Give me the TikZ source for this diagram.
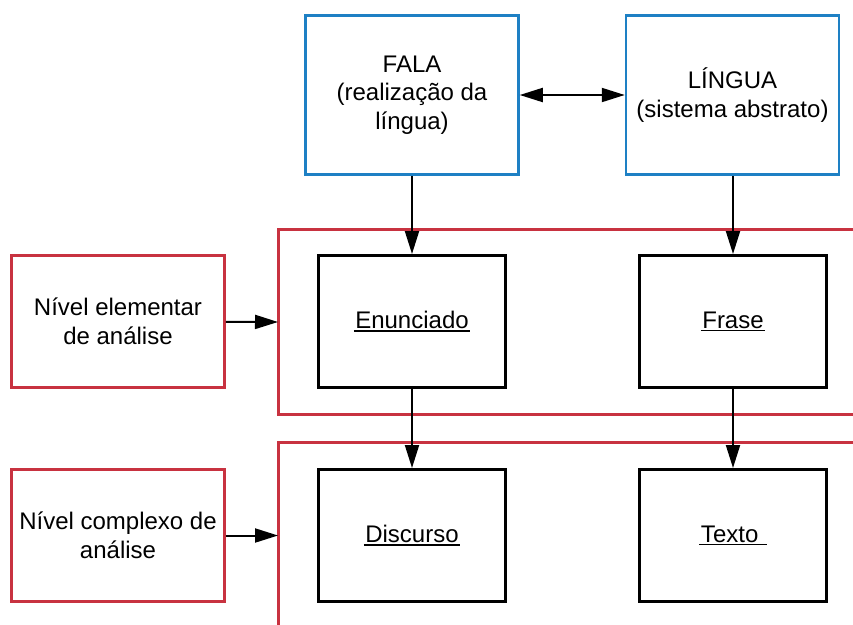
\documentclass[tikz,border=0pt]{standalone}
\usepackage{fontspec}
\setmainfont{Liberation Sans}
\usetikzlibrary{arrows.meta}
\definecolor{boxblue}{RGB}{30,128,196}
\definecolor{boxred}{RGB}{200,50,64}
% underline sitting just below the baseline, a little wider than the word
\newcommand\termline[1]{\setbox0\hbox{#1}\leavevmode
  \rlap{\kern-1.5pt\rule[-3.2pt]{\dimexpr\wd0+3pt\relax}{1.6pt}}\box0}
\begin{document}
\begin{tikzpicture}[x=1pt,y=-1pt,
  every node/.style={font=\fontsize{24}{28.5}\selectfont, align=center, inner sep=0pt},
  concept/.style={draw=boxblue, line width=2.5pt, minimum width=213pt, minimum height=159pt},
  unit/.style={draw=black, line width=3pt, minimum width=187pt, minimum height=132pt},
  level/.style={draw=boxred, line width=2.8pt, minimum width=213pt, minimum height=132pt},
  frame/.style={draw=boxred, line width=3pt},
  link/.style={line width=2pt, -{Triangle[length=23pt,width=14pt]}},
  biglink/.style={line width=2pt, {Triangle[length=23pt,width=14pt]}-{Triangle[length=23pt,width=14pt]}}]
\useasboundingbox (0,0) rectangle (853,624);
\clip (0,0) rectangle (853,624);

% open frames grouping the two levels
\draw[frame] (856,229) -- (278,229) -- (278,414) -- (856,414);
\draw[frame] (856,442) -- (278,442) -- (278,628);
\coordinate (frameA) at (278,322);
\coordinate (frameB) at (278,535.5);

% top concepts
\node[concept] (fala) at (412,95) {FALA\\(realização da\\língua)};
\node[concept] (lingua) at (732.5,95) {LÍNGUA\\(sistema abstrato)};

% units of analysis
\node[unit] (enunciado) at (412,321.5) {\termline{Enunciado}};
\node[unit] (frase) at (733,321.5) {\termline{Frase}};
\node[unit] (discurso) at (412,535.5) {\termline{Discurso}};
\node[unit] (texto) at (733,535.5) {\termline{Texto\ }};

% level labels
\node[level] (elementar) at (118,321.5) {Nível elementar\\de análise};
\node[level] (complexo) at (118,535.5) {Nível complexo de\\análise};

% connectors
\draw[biglink] (fala) -- (lingua);
\draw[link] (fala) -- (enunciado);
\draw[link] (lingua.south -| frase) -- (frase);
\draw[link] (enunciado) -- (discurso);
\draw[link] (frase) -- (texto);
\draw[link] (elementar) -- (frameA);
\draw[link] (complexo) -- (frameB);
\end{tikzpicture}
\end{document}
